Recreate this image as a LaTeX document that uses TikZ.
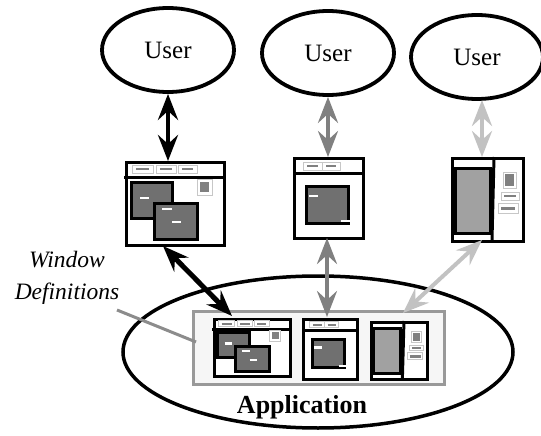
\documentclass[tikz,border=0pt]{standalone}
\usepackage{fontspec}
\setmainfont{Liberation Serif}
\usetikzlibrary{arrows.meta,shapes.geometric}
\definecolor{arrowgray}{gray}{0.5}
\definecolor{arrowlight}{gray}{0.76}
\definecolor{panedark}{gray}{0.44}
\definecolor{panelight}{gray}{0.63}
\definecolor{btnedge}{gray}{0.78}
\definecolor{btnbar}{gray}{0.5}
\definecolor{boxedge}{gray}{0.6}
\definecolor{boxfill}{gray}{0.965}
\definecolor{pointer}{gray}{0.55}
\tikzset{
  user/.style={draw, ellipse, line width=3.8pt, minimum width=132pt, minimum height=84pt,
    inner sep=0pt, font=\fontsize{25}{30}\selectfont},
  frame/.style={draw, fill=white, line width=3pt, anchor=north west, inner sep=0pt},
  btn/.style={draw=btnedge, line width=1pt, fill=white},
  btnline/.style={draw=btnbar, line width=2pt},
  pane/.style={draw=black, fill=panedark, line width=3pt},
  whitebar/.style={draw=white, line width=2.5pt},
  link/.style={line width=4.5pt, {Stealth[length=26pt,width=20pt,inset=9pt]}-{Stealth[length=26pt,width=20pt,inset=9pt]}},
  % three window layouts, drawn from their top-left corner
  winone/.pic={
    \draw[line width=3pt] (-1,16) -- (98,16);
    \foreach \a/\b in {7/28,31/51,53/72}{
      \draw[btn] (\a,4) rectangle (\b,12);
      \draw[btnline] (\a+4,8) -- (\b-4,8);
    }
    \draw[btn] (72,18) rectangle (87,34);
    \fill[btnbar] (75,21) rectangle (84,31);
    \draw[pane] (6,21) rectangle (47,57);
    \draw[whitebar] (15,37) -- (24,37);
    \draw[pane] (29,42) rectangle (72,78);
    \draw[whitebar] (37,48) -- (47,48);
    \draw[whitebar] (47,61) -- (56,61);
  },
  wintwo/.pic={
    \draw[line width=3pt] (0,16) -- (69,16);
    \foreach \a/\b in {10/29,29/47}{
      \draw[btn] (\a,5) rectangle (\b,13);
      \draw[btnline] (\a+4,9) -- (\b-4,9);
    }
    \draw[pane] (13,29) rectangle (55,66);
    \draw[whitebar] (16,39) -- (25,39);
    \draw[whitebar] (48,64) -- (57,64);
  },
  winthree/.pic={
    \draw[line width=3pt] (43,0) -- (41,83);
    \draw[pane, fill=panelight] (4,11) rectangle (39,76);
    \draw[btn] (52,15) rectangle (65,31);
    \fill[btnbar] (54,17) rectangle (63,29);
    \draw[btn] (50,35) rectangle (68,43);
    \draw[btnline] (53,39) -- (65,39);
    \draw[btn] (47,46) rectangle (67,56);
    \draw[btnline, line width=3pt] (50,51) -- (64,51);
  }
}
\begin{document}
\begin{tikzpicture}[x=1pt, y=-1pt]
\useasboundingbox (0,0) rectangle (541,436);

% application and its store of window definitions
\node[draw, ellipse, line width=3.5pt, minimum width=390pt, minimum height=152pt] (app) at (318,352) {};
\node[draw=boxedge, fill=boxfill, line width=2.5pt, anchor=north west, inner sep=0pt,
      minimum width=251pt, minimum height=73pt] (defs) at (192,310) {};
\node[font=\bfseries\fontsize{26}{30}\selectfont, anchor=base] (applabel) at (302,413) {Application};

% users
\node[user] (u1) at (168,50) {User};
\node[user] (u2) at (328,53) {User};
\node[user] (u3) at (477,57) {User};

% user windows
\node[frame, minimum width=98pt, minimum height=83pt] (w1) at (125,161) {};
\pic at (w1.north west) {winone};
\node[frame, minimum width=69pt, minimum height=80pt] (w2) at (293,157) {};
\pic at (w2.north west) {wintwo};
\node[frame, minimum width=71pt, minimum height=83pt] (w3) at (451,157) {};
\pic at (w3.north west) {winthree};

% stored copies
\node[frame, minimum width=76pt, minimum height=57pt] (d1) at (213,318) {};
\pic[xscale=0.78, yscale=0.69] at (d1.north west) {winone};
\node[frame, minimum width=54pt, minimum height=60pt] (d2) at (302,318) {};
\pic[xscale=0.78, yscale=0.75] at (d2.north west) {wintwo};
\node[frame, minimum width=56pt, minimum height=57pt] (d3) at (370,321) {};
\pic[xscale=0.79, yscale=0.69] at (d3.north west) {winthree};

% label and its pointer
\node[font=\itshape\fontsize{23.5}{32}\selectfont, align=center, anchor=base] (wdlabel) at (67,299) {Window\\Definitions};
\coordinate (ptrA) at (117,310);
\coordinate (ptrB) at (196,342);
\draw[pointer, line width=3pt] (ptrA) -- (ptrB);

% user <-> window links
\draw[link] (u1.south) -- (w1.north -| u1.south);
\draw[link, arrowgray, line width=4pt] (u2.south) -- (w2.north -| u2.south);
\coordinate (u3foot) at (482,100);
\draw[link, arrowlight, line width=4pt] (u3foot) -- (w3.north -| u3foot);

% window <-> definition links
\coordinate (l1a) at (163,246);
\coordinate (l1b) at (232,316);
\draw[link, line width=5pt] (l1a) -- (l1b);
\coordinate (l2a) at (327,238);
\coordinate (l2b) at (327,317);
\draw[link, arrowgray, line width=4pt] (l2a) -- (l2b);
\coordinate (l3a) at (482,240);
\coordinate (l3b) at (403,313);
\draw[link, arrowlight, line width=4pt] (l3a) -- (l3b);
\end{tikzpicture}
\end{document}
